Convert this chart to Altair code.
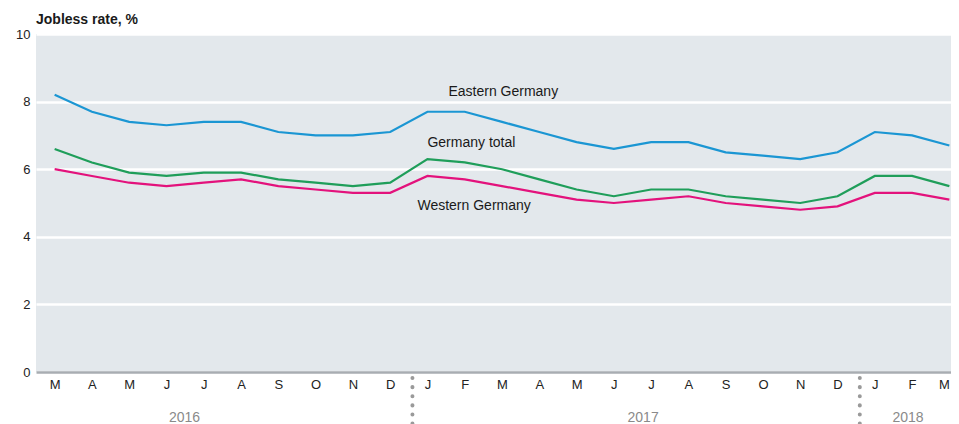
import altair as alt
import pandas as pd

# Month initials: March of year 1 to March of year 3
months = ["M", "A", "M", "J", "J", "A", "S", "O", "N", "D",
          "J", "F", "M", "A", "M", "J", "J", "A", "S", "O", "N", "D",
          "J", "F", "M"]
east = [8.2, 7.7, 7.4, 7.3, 7.4, 7.4, 7.1, 7.0, 7.0, 7.1, 7.7, 7.7, 7.4, 7.1, 6.8,
        6.6, 6.8, 6.8, 6.5, 6.4, 6.3, 6.5, 7.1, 7.0, 6.7]
total = [6.6, 6.2, 5.9, 5.8, 5.9, 5.9, 5.7, 5.6, 5.5, 5.6, 6.3, 6.2, 6.0, 5.7, 5.4,
         5.2, 5.4, 5.4, 5.2, 5.1, 5.0, 5.2, 5.8, 5.8, 5.5]
west = [6.0, 5.8, 5.6, 5.5, 5.6, 5.7, 5.5, 5.4, 5.3, 5.3, 5.8, 5.7, 5.5, 5.3, 5.1,
        5.0, 5.1, 5.2, 5.0, 4.9, 4.8, 4.9, 5.3, 5.3, 5.1]
series_names = ["Eastern Germany", "Germany total", "Western Germany"]
label_values = [8.28, 6.77, 4.91]
colors = ["#1b96d3", "#1f9e5a", "#e3127c"]
title_text = "Jobless rate, %"
years = ["2016", "2017", "2018"]
y_ticks = [0, 2, 4, 6, 8, 10]

keys = [f"{i:02d}" for i in range(len(months))]
rows = []
for s, vals in zip(series_names, [east, total, west]):
    for k, v in zip(keys, vals):
        rows.append({"k": k, "v": v, "s": s})
df = pd.DataFrame(rows)

W, H = 915, 338
XR = 932
xscale = alt.Scale(type="point", padding=0.5, domain=keys, range=[0, XR])
label_map = "{" + ",".join(f"'{k}':'{m}'" for k, m in zip(keys, months)) + "}"
last_key = keys[-1]

x = alt.X("k:N", scale=xscale, title=None,
          axis=alt.Axis(labelExpr=f"{label_map}[datum.value]", labelAngle=0, ticks=False,
                        labelAlign={"expr": f"datum.value == '{last_key}' ? 'right' : 'center'"},
                        domainColor="#a8adb2", domainWidth=2.5, labelColor="#222",
                        labelFontSize=13, labelPadding=6, grid=False))
y = alt.Y("v:Q", scale=alt.Scale(domain=[0, 10]), title=None,
          axis=alt.Axis(values=y_ticks, ticks=False, domain=False,
                        gridColor="white", gridWidth=2.5, labelColor="#222", labelFontSize=13,
                        labelPadding=6))

lines = alt.Chart(df).mark_line(strokeWidth=2.2).encode(
    x=x, y=y,
    color=alt.Color("s:N", scale=alt.Scale(domain=series_names, range=colors), legend=None),
)

label_layers = []
for name, val, dx in zip(series_names, label_values, [21, 0, -10]):
    label_layers.append(
        alt.Chart(pd.DataFrame({"k": [keys[10]], "v": [val], "s": [name]})).mark_text(
            align="left", baseline="middle", fontSize=14, color="#1a1a1a", dx=dx).encode(
            x=alt.X("k:N", scale=xscale), y=alt.Y("v:Q"), text="s:N"))

title = alt.Chart(pd.DataFrame({"t": [title_text]})).mark_text(
    align="left", baseline="middle", fontSize=14, fontWeight="bold", color="#1a1a1a").encode(
    text="t:N", x=alt.value(0), y=alt.value(-14))

yr_layers = []
for k, t, dx in zip([keys[3], keys[16], keys[23]], years, [18, -8, -4]):
    yr_layers.append(
        alt.Chart(pd.DataFrame({"k": [k], "t": [t]})).mark_text(
            baseline="middle", fontSize=14, color="#8a8a8a", dx=dx).encode(
            x=alt.X("k:N", scale=xscale), y=alt.value(H + 46), text="t:N"))

sep_df = pd.DataFrame({"k": [keys[10], keys[22]]})
seps = alt.Chart(sep_df).mark_rule(color="#9a9a9a", strokeWidth=4, strokeCap="round",
                                    strokeDash=[0.1, 9]).encode(
    x=alt.X("k:N", scale=xscale), xOffset=alt.value(-15),
    y=alt.value(H + 6), y2=alt.value(H + 54))

chart = alt.layer(lines, *label_layers, title, *yr_layers, seps).properties(
    width=W, height=H, padding={"left": 28, "top": 26, "right": 0, "bottom": 60},
    autosize="none").configure_view(fill="#e3e8ec", stroke=None)

chart.save("out.html", embed_options={"renderer": "svg", "actions": False})
